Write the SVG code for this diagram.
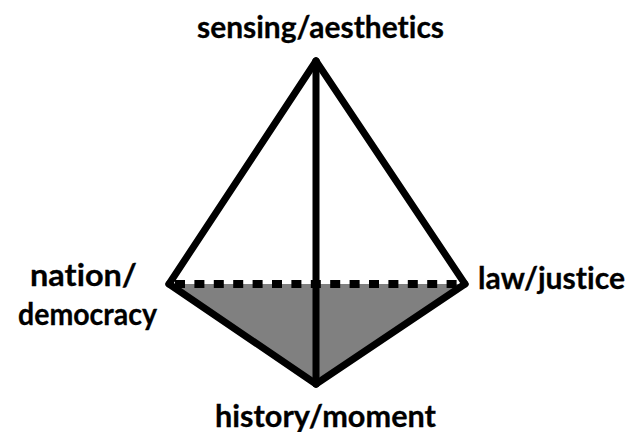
<svg xmlns="http://www.w3.org/2000/svg" width="627" height="432" viewBox="0 0 627 432">
<style>
.l{font-family:"Lato","Open Sans",sans-serif;font-weight:700;font-size:30px;fill:#000;text-anchor:middle;font-variant-ligatures:none;stroke:#000;stroke-width:.3}
.e{stroke:#000;stroke-width:7;fill:none;stroke-linecap:round}
</style>
<rect width="627" height="432" fill="#fff"/>
<polygon points="169,284 465,284 316,384" fill="#808080"/>
<g id="connectors">
<path class="e" d="M316,61L169,284"/>
<path class="e" d="M316,61L465,284"/>
<path class="e" d="M316,61L316,384"/>
<path class="e" d="M169,284L316,384"/>
<path class="e" d="M465,284L316,384"/>
<path d="M175,284H465" fill="none" stroke="#000" stroke-width="8" stroke-dasharray="10 9.4"/>
</g>
<g id="n1"><text class="l" x="320.500" y="38" textLength="247" lengthAdjust="spacingAndGlyphs">sensing/aesthetics</text></g>
<g id="n2"><text class="l" x="83.500" y="286" textLength="107" lengthAdjust="spacingAndGlyphs">nation/</text><text class="l" x="87.500" y="325" textLength="139" lengthAdjust="spacingAndGlyphs">democracy</text></g>
<g id="n3"><text class="l" x="551.500" y="289" textLength="147" lengthAdjust="spacingAndGlyphs">law/justice</text></g>
<g id="n4"><text class="l" x="325.500" y="427" textLength="221" lengthAdjust="spacingAndGlyphs">history/moment</text></g>
</svg>
